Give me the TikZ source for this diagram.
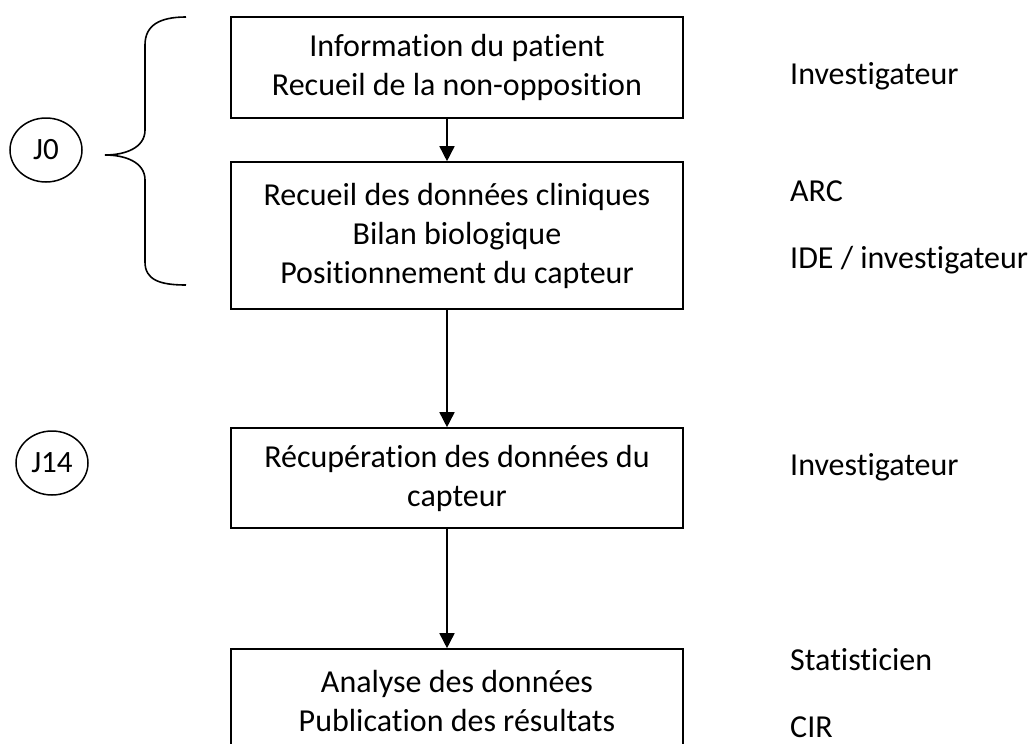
\documentclass[tikz,border=0pt]{standalone}
\usepackage{fontspec}
\setmainfont[Ligatures={NoCommon,NoContextual}]{Carlito}
\usetikzlibrary{arrows.meta,shapes.geometric}
\begin{document}
\begin{tikzpicture}[x=1pt,y=-1pt,
  box/.style={draw,line width=1.6pt,minimum width=452pt,align=center,font=\fontsize{32}{39}\selectfont,inner sep=0pt},
  lbl/.style={anchor=base west,font=\fontsize{32}{39}\selectfont,inner sep=0pt},
  day/.style={draw,ellipse,line width=1.5pt,minimum width=72pt,minimum height=64pt,inner sep=0pt,font=\fontsize{31}{36}\selectfont},
  arr/.style={line width=1.6pt,-{Triangle[width=15pt,length=15pt]}},
  brace/.style={line width=1.6pt}]
\useasboundingbox (0,0) rectangle (1034,744);
\clip (0,0) rectangle (1034,744);
\fill[white] (0,0) rectangle (1034,744);
\node[box,minimum height=101pt] (b1) at (457,67.5) {Information du patient\\Recueil de la non-opposition};
\node[box,minimum height=147pt] (b2) at (457,235.5) {Recueil des données cliniques\\Bilan biologique\\Positionnement du capteur};
\node[box,minimum height=100pt] (b3) at (457,478) {Récupération des données du\\capteur};
\node[box,minimum height=104pt] (b4) at (457,701) {Analyse des données\\Publication des résultats};
\draw[arr] ([xshift=-10pt]b1.south) -- ([xshift=-10pt]b2.north);
\draw[arr] ([xshift=-10pt]b2.south) -- ([xshift=-10pt]b3.north);
\draw[arr] ([xshift=-10pt]b3.south) -- ([xshift=-10pt]b4.north);
\node[day] (j0) at (46,150) {J0};
\node[day] (j14) at (52,463) {J14};
\draw[brace] (186,17) .. controls (160,17) and (145,25) .. (145,45) -- (145,130)
  .. controls (145,148) and (125,155) .. (105,155)
  .. controls (125,155) and (145,162) .. (145,180) -- (145,262)
  .. controls (145,280) and (160,285) .. (186,285);
\node[lbl] (r1) at (790,84) {Investigateur};
\node[lbl] (r2) at (790,201) {ARC};
\node[lbl] (r3) at (790,268) {IDE / investigateur};
\node[lbl] (r4) at (790,475) {Investigateur};
\node[lbl] (r5) at (790,670) {Statisticien};
\node[lbl] (r6) at (790,737) {CIR};
\end{tikzpicture}
\end{document}
